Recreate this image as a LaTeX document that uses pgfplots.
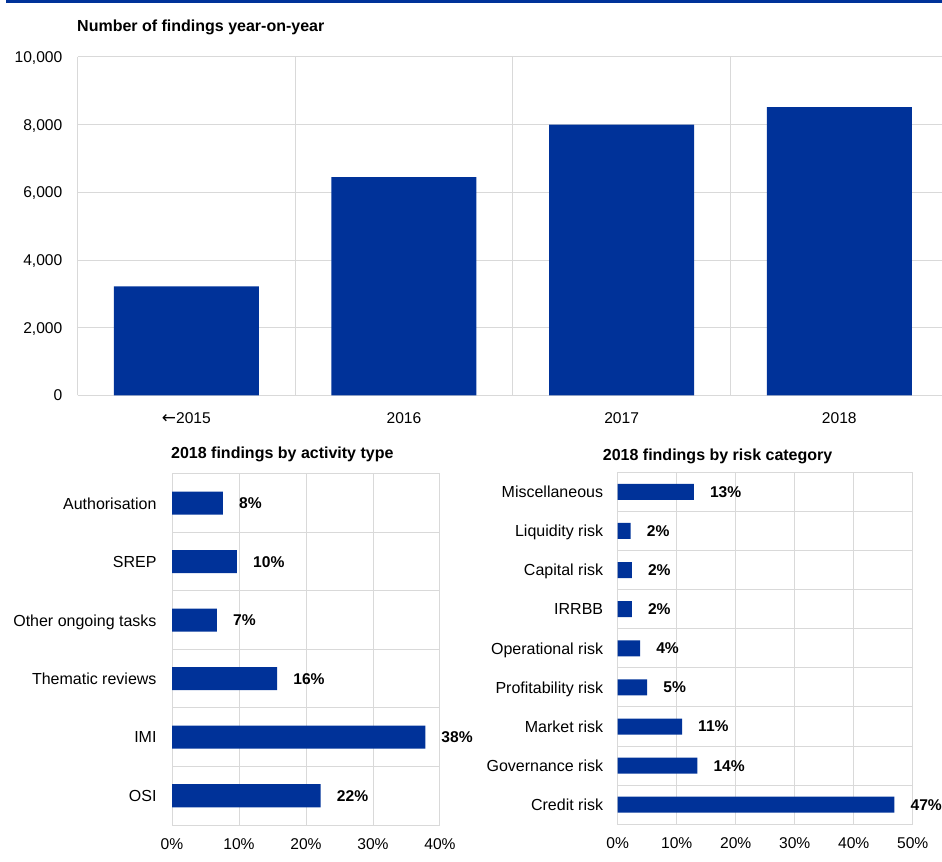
\documentclass[border=0pt]{standalone}
\usepackage{fontspec}
\setmainfont{Liberation Sans}
\newfontfamily\arrowfont{DejaVu Sans}
\usepackage{pgfplots}
\pgfplotsset{compat=1.18}
\definecolor{ecbblue}{RGB}{0,50,153}
\definecolor{gridgrey}{RGB}{217,217,217}
\pgfplotsset{
  common/.style={
    scale only axis,
    anchor=south west,
    /pgf/number format/assume math mode=true,
    /pgf/number format/1000 sep={,},
    axis line style={gridgrey, line width=1bp},
    grid style={gridgrey, line width=1bp},
    major tick length=0pt, minor tick length=0pt,
    ticklabel style={inner sep=0pt, text depth=0pt, font=\fontsize{15.6bp}{18bp}\selectfont},
  },
  pctbars/.style={
    xbar,
    point meta=explicit,
    xticklabel={\pgfmathprintnumber{\tick}\%},
    xmajorgrids,
    extra y tick labels={}, extra y tick style={grid=major},
    yticklabel style={anchor=east, font=\fontsize{16bp}{19bp}\selectfont},
    xticklabel style={anchor=north, yshift=-13.3bp},
    nodes near coords={\pgfmathprintnumber[fixed,precision=0]{\pgfplotspointmeta}\%},
    every node near coord/.append style={anchor=west, inner sep=0pt, xshift=16bp, text depth=0pt, text=black, font=\bfseries\fontsize{15.6bp}{18bp}\selectfont},
  },
}
\begin{document}
\begin{tikzpicture}
\path[use as bounding box] (0,0) rectangle (942bp,862bp);
\fill[ecbblue] (6bp,859bp) rectangle (942bp,861.5bp);

\node[anchor=base west, inner sep=0pt, font=\bfseries\fontsize{16bp}{19bp}\selectfont] at (77bp,830.3bp) {Number of findings year-on-year};
\node[anchor=base west, inner sep=0pt, font=\bfseries\fontsize{16bp}{19bp}\selectfont] at (171bp,403bp) {2018 findings by activity type};
\node[anchor=base west, inner sep=0pt, font=\bfseries\fontsize{16bp}{19bp}\selectfont] at (602.7bp,401.3bp) {2018 findings by risk category};

% Top chart
\begin{axis}[common,
  at={(77.5bp,466.5bp)},
  width=864.5bp, height=338.6bp,
  xmin=-0.5, xmax=3.472, ymin=0, ymax=10000,
  axis lines*=left,
  ymajorgrids,
  ytick={0,2000,4000,6000,8000,10000},
  scaled y ticks=false,
  xtick={0,1,2,3},
  xticklabels={{\arrowfont\fontsize{17bp}{18bp}\selectfont ←}2015,2016,2017,2018},
  extra x ticks={0.5,1.5,2.5},
  extra x tick labels={},
  extra x tick style={grid=major},
  yticklabel style={anchor=east, xshift=-15bp},
  xticklabel style={anchor=base, yshift=-28.5bp},
  ybar, bar width=145bp,
]
\addplot[fill=ecbblue, draw=none] coordinates {(0,3220) (1,6450) (2,8000) (3,8520)};
\end{axis}

% Bottom left chart
\begin{axis}[common, pctbars,
  at={(172bp,37bp)},
  width=268bp, height=351bp,
  xmin=0, xmax=40, ymin=0.5, ymax=6.5,
  xtick={0,10,20,30,40},
  ytick={1,2,3,4,5,6},
  yticklabels={OSI,IMI,Thematic reviews,Other ongoing tasks,SREP,Authorisation},
  extra y ticks={1.5,2.5,3.5,4.5,5.5},
  yticklabel style={xshift=-15.3bp},
  bar width=23bp,
]
\addplot[fill=ecbblue, draw=none] coordinates {(22.2,1) [22] (37.8,2) [38] (15.7,3) [16] (6.7,4) [7] (9.7,5) [10] (7.6,6) [8]};
\end{axis}

% Bottom right chart
\begin{axis}[common, pctbars,
  at={(617.7bp,37.7bp)},
  width=295bp, height=352bp,
  xmin=0, xmax=50, ymin=0.5, ymax=9.5,
  xtick={0,10,20,30,40,50},
  ytick={1,2,3,4,5,6,7,8,9},
  yticklabels={Credit risk,Governance risk,Market risk,Profitability risk,Operational risk,IRRBB,Capital risk,Liquidity risk,Miscellaneous},
  extra y ticks={1.5,2.5,3.5,4.5,5.5,6.5,7.5,8.5},
  yticklabel style={xshift=-14.4bp},
  bar width=16bp,
]
\addplot[fill=ecbblue, draw=none] coordinates {(46.9,1) [47] (13.5,2) [14] (10.9,3) [11] (5.0,4) [5] (3.8,5) [4] (2.4,6) [2] (2.4,7) [2] (2.2,8) [2] (12.9,9) [13]};
\end{axis}
\end{tikzpicture}
\end{document}
